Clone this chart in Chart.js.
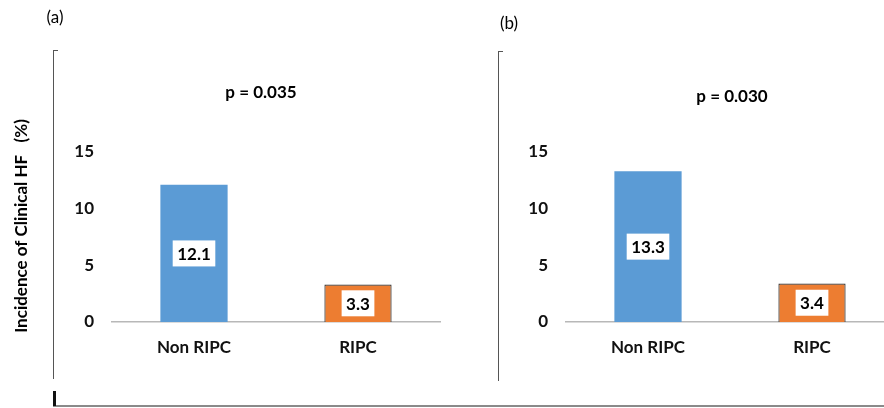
<!DOCTYPE html>
<html>
<head>
<meta charset="utf-8">
<script src="https://cdn.jsdelivr.net/npm/chart.js@4.4.0/dist/chart.umd.min.js"></script>
<style>
  html, body { margin: 0; padding: 0; background: #fff; overflow: hidden; }
  #wrap { position: relative; width: 884px; height: 408px; overflow: hidden; }
  canvas { position: absolute; top: 0; }
  #chartA { left: 0; }
  #chartB { left: 442px; }
  .frame { position: absolute; background: #555; }
</style>
</head>
<body>
<div id="wrap">
  <canvas id="chartA" width="442" height="408"></canvas>
  <canvas id="chartB" width="452" height="408"></canvas>
  <!-- panel frames -->
  <div class="frame" style="left:53px;top:50px;width:1px;height:329px"></div>
  <div class="frame" style="left:53px;top:50px;width:5px;height:1px"></div>
  <div class="frame" style="left:498px;top:51px;width:1px;height:330px"></div>
  <div class="frame" style="left:498px;top:51px;width:5px;height:1px"></div>
  <div class="frame" style="left:53px;top:405px;width:831px;height:2px;background:#8a8a8a"></div>
  <div class="frame" style="left:53px;top:391px;width:3px;height:15px;background:#111"></div>
</div>
<script>
// Data
const categories = ['Non RIPC', 'RIPC'];
const panelAValues = [12.1, 3.3];
const panelBValues = [13.3, 3.4];
const yTicks = [0, 5, 10, 15];
const panelLetters = ['(a)', '(b)'];
const pValues = ['p = 0.035', 'p = 0.030'];
const yAxisTitle = 'Incidence of Clinical HF   (%)';

const barColors = ['#5b9bd5', '#ed7d31'];
const FONT = 'Lato, "Open Sans", sans-serif';

Chart.defaults.font.family = FONT;

// Draws white value boxes, p-value, panel letter and optional axis title
const panelText = {
  id: 'panelText',
  afterDatasetsDraw(chart, args, o) {
    const ctx = chart.ctx;
    const ds = chart.data.datasets[0];
    ctx.save();
    ctx.font = 'bold 17px ' + FONT;
    ctx.textAlign = 'center';
    ctx.textBaseline = 'middle';

    chart.getDatasetMeta(0).data.forEach((bar, i) => {
      const txt = ds.data[i].toFixed(1);
      const cy = (bar.y + bar.base) / 2;
      const w = ctx.measureText(txt).width + 9;
      const h = 26;
      ctx.fillStyle = '#fff';
      ctx.fillRect(bar.x - w / 2, cy - h / 2, w, h);
      ctx.fillStyle = '#000';
      ctx.fillText(txt, bar.x, cy + 1);
    });

    ctx.fillStyle = '#000';
    ctx.fillText(o.pText, o.pX, o.pY);

    ctx.font = '17px ' + FONT;
    ctx.fillText(o.letter, o.letterX, o.letterY);

    if (o.yTitle) {
      ctx.font = 'bold 17px ' + FONT;
      ctx.translate(o.yTitleX, o.yTitleY);
      ctx.rotate(-Math.PI / 2);
      ctx.fillText(o.yTitle, 0, 0);
    }
    ctx.restore();
  }
};

function makeChart(canvasId, values, opts) {
  const tickFont = { family: FONT, size: 17, weight: 'bold' };
  return new Chart(document.getElementById(canvasId), {
    type: 'bar',
    data: {
      labels: categories,
      datasets: [{
        data: values,
        backgroundColor: barColors,
        borderColor: ['#5b9bd5', '#333333'],
        borderWidth: [0, 1.2],
        barPercentage: 0.41,
        categoryPercentage: 1
      }]
    },
    options: {
      responsive: false,
      animation: false,
      layout: { padding: { left: 0, right: opts.padRight, top: 152, bottom: 46 } },
      plugins: {
        legend: { display: false },
        tooltip: { enabled: false },
        panelText: opts.text
      },
      scales: {
        x: {
          grid: { display: false, drawTicks: false },
          border: { display: true, color: '#b8b8b8', width: 1.5 },
          ticks: { padding: 15, color: '#111', font: tickFont },
          afterFit: s => { s.height = 40; }
        },
        y: {
          min: yTicks[0],
          max: yTicks[yTicks.length - 1],
          grid: { display: false, drawTicks: false },
          border: { display: false },
          ticks: { stepSize: yTicks[1] - yTicks[0], padding: 18, color: '#111', font: tickFont },
          afterFit: s => { s.width = opts.yWidth; }
        }
      }
    },
    plugins: [panelText]
  });
}

makeChart('chartA', panelAValues, {
  yWidth: 112,
  padRight: 2,
  text: {
    pText: pValues[0], pX: 261, pY: 93,
    letter: panelLetters[0], letterX: 55, letterY: 18,
    yTitle: yAxisTitle, yTitleX: 22, yTitleY: 226
  }
});

makeChart('chartB', panelBValues, {
  yWidth: 124,
  padRight: 0,
  text: {
    pText: pValues[1], pX: 290, pY: 97,
    letter: panelLetters[1], letterX: 67, letterY: 24
  }
});
</script>
</body>
</html>
